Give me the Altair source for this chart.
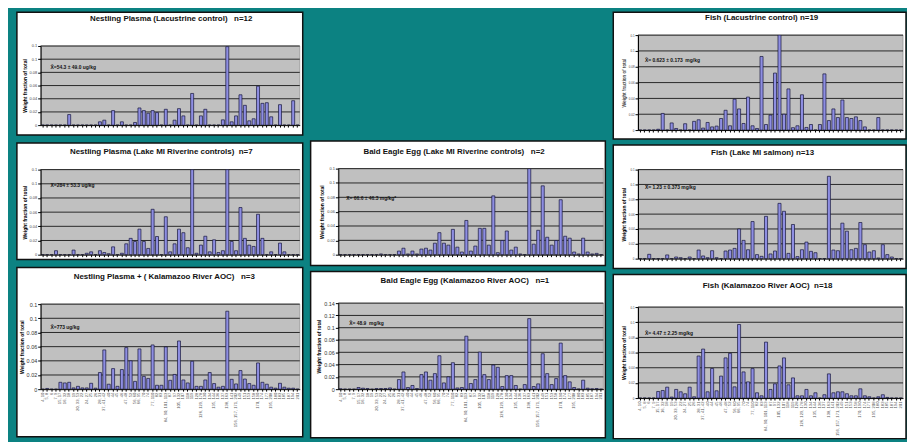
import altair as alt
import pandas as pd

congeners = ["4, 10", "5, 8", "6", "7, 9", "15, 17", "16, 32", "18", "19", "20, 33, 53", "22",
             "24, 27", "25", "26", "28, 31", "37, 41, 42", "40", "44", "45", "46", "47, 48",
             "52", "56, 60", "66, 95", "70", "74", "77, 110", "82", "83", "84, 90, 101, 113", "87",
             "97", "105, 132", "107", "118", "119", "128", "126, 129, 178", "130", "134", "135, 144",
             "136", "137", "138, 163", "141", "156, 157, 171, 202", "149", "151", "153", "158", "170, 190",
             "174", "177", "195, 208", "180", "183", "185", "187", "194", "201"]

vals_A = [0, 0, 0, 0, 0, 0, 0.016, 0, 0, 0,
          0, 0, 0, 0.005, 0.0075, 0, 0.022, 0, 0.005, 0,
          0, 0.004, 0.026, 0.022, 0.018, 0.022, 0.019, 0, 0.024, 0,
          0.0075, 0.025, 0.014, 0, 0.048, 0, 0.014, 0.024, 0, 0,
          0, 0.008, 0.119, 0.005, 0.014, 0.046, 0.030, 0.0065, 0.0096, 0.059,
          0.033, 0.034, 0.0126, 0, 0.031, 0, 0, 0.037, 0]
vals_B = [0, 0, 0, 0, 0.001, 0.021, 0, 0.009, 0.002, 0,
          0.008, 0, 0.011, 0.013, 0.0025, 0.0096, 0.004, 0.005, 0.0146, 0.025,
          0.0054, 0.039, 0.0267, 0.0083, 0.0417, 0.0054, 0.002, 0.093, 0.007, 0.019,
          0.072, 0.12, 0.020, 0.052, 0.003, 0.0054, 0.0446, 0.0033, 0.007, 0,
          0.007, 0.071, 0.012, 0.0267, 0.0158, 0.038, 0.0158, 0.0146, 0.0167, 0.012,
          0.004, 0, 0, 0.0158, 0, 0, 0, 0, 0]
vals_C = [0, 0, 0, 0.0056, 0, 0, 0, 0.0065, 0, 0,
          0.002, 0.004, 0, 0.0056, 0.003, 0.0014, 0.011, 0, 0.002, 0.0153,
          0.023, 0.0186, 0.036, 0.0186, 0.0088, 0.064, 0.0256, 0, 0.0535, 0.004,
          0.0153, 0.036, 0.031, 0.0098, 0.12, 0.002, 0.0135, 0.026, 0.004, 0.021,
          0.003, 0.0056, 0.12, 0.0186, 0.0056, 0.0665, 0.023, 0.0135, 0.0116, 0.057,
          0.023, 0, 0.004, 0, 0.0163, 0.004, 0, 0, 0]
vals_D = [0, 0, 0, 0, 0, 0, 0, 0, 0, 0.001,
          0, 0, 0, 0.005, 0.009, 0.001, 0.005, 0.001, 0.0078, 0.009,
          0.0064, 0.016, 0.0307, 0.016, 0.0133, 0.0353, 0.0105, 0.0037, 0.0477, 0.005,
          0.012, 0.0367, 0.0367, 0.0133, 0.082, 0.0028, 0.0197, 0.033, 0.0064, 0.0105,
          0.001, 0, 0.12, 0.0147, 0.034, 0.096, 0.0243, 0.0133, 0.0197, 0.0766,
          0.0257, 0.023, 0.0037, 0.001, 0.023, 0.0037, 0.001, 0.0018, 0]
vals_E = [0, 0, 0.0058, 0, 0, 0, 0.005, 0, 0.0022, 0.0013,
          0, 0.0022, 0, 0.0116, 0.0036, 0.0013, 0.0107, 0.0013, 0, 0.0103,
          0.0116, 0.0138, 0.040, 0.0246, 0.012, 0.050, 0.0054, 0.0031, 0.057, 0.0063,
          0.0103, 0.0745, 0.0638, 0.0071, 0.046, 0.0027, 0.012, 0.0223, 0.0098, 0.008,
          0, 0, 0.111, 0.0116, 0.0107, 0.0478, 0.037, 0.012, 0.0138, 0.0487,
          0.0188, 0.0089, 0.0107, 0.0009, 0.0188, 0.0054, 0.0022, 0, 0]
vals_F = [0, 0.001, 0, 0, 0.0097, 0.0088, 0.0097, 0.0018, 0.004, 0.0018,
          0.0018, 0.0083, 0.0014, 0.0235, 0.0554, 0.007, 0.029, 0.004, 0.0277, 0.0587,
          0.040, 0.011, 0.0568, 0.018, 0.0152, 0.0624, 0.0055, 0.0055, 0.0596, 0.0125,
          0.0208, 0.068, 0.013, 0.0088, 0.0393, 0.004, 0.004, 0.013, 0.0235, 0.0079,
          0.0028, 0.004, 0.110, 0.0139, 0.0074, 0.0263, 0.0143, 0.0079, 0.0055, 0.037,
          0.0097, 0.007, 0.0028, 0.0014, 0.0083, 0.0028, 0.0014, 0.0014, 0]
vals_G = [0.0005, 0, 0, 0, 0.0027, 0.0016, 0.001, 0, 0.001, 0.001,
          0.001, 0.002, 0, 0.0156, 0.028, 0.0027, 0.006, 0.001, 0.0237, 0.028,
          0.0146, 0.0253, 0.0544, 0.0102, 0.020, 0.0431, 0.002, 0.0027, 0.0862, 0.0092,
          0.0156, 0.0604, 0.0237, 0.0156, 0.0393, 0.0356, 0.0043, 0.0221, 0.0221, 0.006,
          0, 0.0075, 0.1148, 0.0043, 0.0086, 0.0577, 0.0253, 0.0075, 0.0172, 0.075,
          0.0221, 0.0119, 0.0027, 0.0003, 0.0146, 0.0016, 0.0005, 0.001, 0]
vals_H = [0, 0, 0, 0, 0.0087, 0.010, 0.0144, 0.0013, 0.0114, 0.0083,
          0.0057, 0.0144, 0.0017, 0.0555, 0.0646, 0.0083, 0.039, 0.0096, 0.029, 0.053,
          0.059, 0.0148, 0.097, 0.0345, 0.0214, 0.0389, 0.007, 0.003, 0.0738, 0.0114,
          0.0188, 0.0424, 0.053, 0.0175, 0.0266, 0.003, 0.003, 0.0114, 0.003, 0.007,
          0, 0.0044, 0.0319, 0.007, 0.0083, 0.0083, 0.0057, 0.003, 0.003, 0.0122,
          0.003, 0.0017, 0, 0.0017, 0.0044, 0.0009, 0, 0, 0]

SP = "\u00a0"
titles = {
    "A": "Nestling Plasma (Lacustrine control)" + SP * 3 + "n=12",
    "B": "Fish (Lacustrine control) n=19",
    "C": "Nestling Plasma (Lake MI Riverine controls)" + SP * 2 + "n=7",
    "D": "Bald Eagle Egg (Lake MI Riverine controls)" + SP * 3 + "n=2",
    "E": "Fish (Lake MI salmon) n=13",
    "F": "Nestling Plasma + ( Kalamazoo River AOC)" + SP * 3 + "n=3",
    "G": "Bald Eagle Egg (Kalamazoo River AOC)" + SP * 3 + "n=1",
    "H": "Fish (Kalamazoo River AOC)" + SP * 2 + "n=18",
}
means = {
    "A": "X\u0304=54.3 \u00b1 49.0 ug/kg",
    "B": "X\u0304= 0.623 \u00b1 0.173" + SP * 2 + "mg/kg",
    "C": "X\u0304=284 \u00b1 53.3 ug/kg",
    "D": "X\u0304= 66.6 \u00b1 46.3 mg/kg*",
    "E": "X\u0304= 1.23 \u00b1 0.373 mg/kg",
    "F": "X\u0304=773 ug/kg",
    "G": "X\u0304= 48.9" + SP * 2 + "mg/kg",
    "H": "X\u0304= 4.47 \u00b1 2.25 mg/kg",
}

FONT = "Liberation Sans"
BAR_FILL = "#8e8ee2"
BAR_STROKE = "#15153a"
YTITLE = "Weight fraction of total"
BLANK = pd.DataFrame({"t": [""]})


def panel(key, values, box, plot, tpos, mpos, gap_below=0, ytop=0.12, xlabels=False,
          ylab_size=4.0, ytitle_bold=True, tick_color="#444444"):
    px0, py0, px1, py1 = plot
    bx0, by0, bx1, by1 = box
    w = px1 - px0
    h = py1 - py0
    n_ticks = int(round(ytop / 0.02))
    ticks = [round(0.02 * i, 2) for i in range(n_ticks + 1)]
    df = pd.DataFrame({"c": congeners, "v": values})
    grid = pd.DataFrame({"v": ticks[1:]})
    one = pd.DataFrame({"t": [titles[key]], "m": [means[key]]})
    yscale = alt.Scale(domain=[0, ytop], nice=False, zero=True)

    yaxis = alt.Axis(title=YTITLE, values=ticks, format="~g", labelFontSize=ylab_size,
                     labelColor=tick_color, labelFont=FONT, labelPadding=1,
                     tickSize=3, tickColor="black", domainColor="black", domainWidth=1,
                     titleFont=FONT, titleFontSize=5,
                     titleFontWeight="bold" if ytitle_bold else "normal",
                     titleColor="black", titlePadding=2, grid=False, zindex=1)
    xaxis = alt.Axis(title=None, labels=xlabels, labelAngle=270, labelFontSize=4.2,
                     labelColor="#555555", labelFont=FONT, labelOverlap=False,
                     labelPadding=1, labelLimit=60, ticks=True, tickSize=2,
                     tickColor="black", domainColor="black", domainWidth=1,
                     grid=False, zindex=1)

    layers = []
    if gap_below:
        layers.append(alt.Chart(BLANK).mark_rect(opacity=0).encode(
            x=alt.value(bx0 - px0 + 2), x2=alt.value(bx0 - px0 + 3),
            y=alt.value(by1 - py0), y2=alt.value(by1 - py0 + gap_below)))
    layers.append(alt.Chart(one).mark_rect(fill="white", stroke="#111111", strokeWidth=1.5).encode(
        x=alt.value(bx0 - px0), x2=alt.value(bx1 - px0),
        y=alt.value(by0 - py0), y2=alt.value(by1 - py0)))
    layers.append(alt.Chart(one).mark_rect(fill="#c0c0c0", stroke="#808080", strokeWidth=0.6).encode(
        x=alt.value(0), x2=alt.value(w), y=alt.value(0), y2=alt.value(h)))
    layers.append(alt.Chart(grid).mark_rule(color="black", strokeWidth=0.8).encode(
        y=alt.Y("v:Q", scale=yscale, axis=yaxis)))
    layers.append(alt.Chart(df).mark_bar(fill=BAR_FILL, stroke=BAR_STROKE, strokeWidth=0.7, clip=True).encode(
        x=alt.X("c:N", sort=congeners,
                scale=alt.Scale(domain=congeners, paddingInner=0.32, paddingOuter=0.16),
                axis=xaxis),
        y=alt.Y("v:Q", scale=yscale, axis=yaxis)))
    layers.append(alt.Chart(one).mark_text(font=FONT, fontSize=8, fontWeight="bold", align="center",
                                           baseline="middle", color="#111111").encode(
        x=alt.value(tpos[0] - px0), y=alt.value(tpos[1] - py0), text="t:N"))
    layers.append(alt.Chart(one).mark_text(font=FONT, fontSize=5, fontWeight="bold", align="left",
                                           baseline="middle", color="#111111").encode(
        x=alt.value(mpos[0] - px0), y=alt.value(mpos[1] - py0), text="m:N"))
    return alt.layer(*layers).properties(width=w, height=h)


def top_spacer():
    return alt.Chart(BLANK).mark_rect(opacity=0).encode(
        x=alt.value(0), x2=alt.value(1), y=alt.value(0), y2=alt.value(1)
    ).properties(width=1, height=1)


# column 1 : nestling plasma
pA = panel("A", vals_A, (16, 9, 305, 133), (40, 43, 302, 123), (172, 16), (50, 64), gap_below=7)
pC = panel("C", vals_C, (16, 140, 305, 258), (40, 167, 302, 253), (162, 149), (50, 183), gap_below=7)
pF = panel("F", vals_F, (16, 265, 305, 436), (40, 302, 302, 388), (165, 275), (50, 325),
           xlabels=True, ylab_size=5.5, tick_color="#333333")

# column 2 : bald eagle eggs (empty space on top)
blank2 = alt.Chart(BLANK).mark_rect(opacity=0).encode(
    x=alt.value(0), x2=alt.value(2), y=alt.value(0), y2=alt.value(130)
).properties(width=2, height=130)
pD = panel("D", vals_D, (311, 139, 609, 265), (339, 167, 607, 254), (456, 150), (347, 197), gap_below=5)
pG = panel("G", vals_G, (311, 270, 609, 438), (339, 302, 607, 389), (467, 280), (350, 322),
           ytop=0.14, xlabels=True, ylab_size=5.5, tick_color="#333333")

# column 3 : fish
pB = panel("B", vals_B, (615, 9, 911, 137), (640, 32, 908, 128), (765, 15), (647, 57), gap_below=5,
           ylab_size=3, ytitle_bold=False)
pE = panel("E", vals_E, (615, 142, 911, 267), (640, 167, 908, 257), (766, 150), (647, 185), gap_below=5,
           ylab_size=3)
pH = panel("H", vals_H, (615, 272, 911, 438), (640, 305, 908, 397), (771, 284), (647, 331),
           xlabels=True, ylab_size=3)

col1 = alt.vconcat(top_spacer(), pA, pC, pF, spacing=0)
col2 = alt.vconcat(top_spacer(), blank2, pD, pG, spacing=0)
col3 = alt.vconcat(top_spacer(), pB, pE, pH, spacing=0)

chart = alt.hconcat(col1, col2, col3, spacing=6).properties(
    background="#0c8282",
    padding={"left": 8, "top": 0, "right": 0, "bottom": 0},
).configure_view(stroke=None)

chart.save("out.html", embed_options={"renderer": "svg", "actions": False})
